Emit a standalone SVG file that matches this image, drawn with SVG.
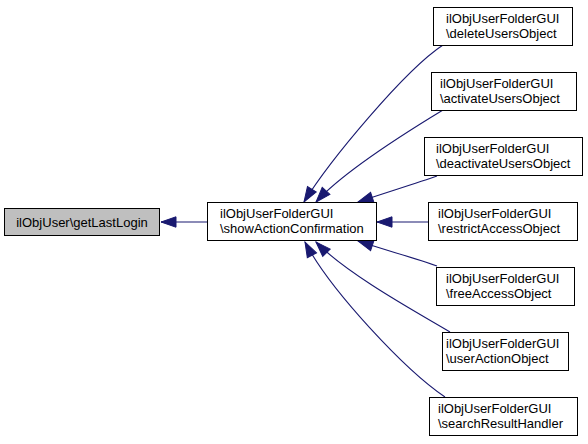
<svg xmlns="http://www.w3.org/2000/svg" width="588" height="444" viewBox="0 0 588 444">
<defs>
<style>
.box{fill:#ffffff;stroke:#000000;stroke-width:1}
.cur{fill:#bfbfbf;stroke:#000000;stroke-width:1}
text{font-family:"Liberation Sans",Arial,Helvetica,sans-serif;font-size:13px;fill:#000000}
.edge{fill:none;stroke:#191970;stroke-width:1.1}
</style>
<marker id="ah" markerUnits="userSpaceOnUse" markerWidth="16" markerHeight="12" viewBox="0 -6 16 12" refX="15" refY="0" orient="auto" overflow="visible">
<path d="M0,-5.2 L15,0 L0,5.2 Z" fill="#191970" stroke="#191970" stroke-width="1"/>
</marker>
</defs>
<rect width="588" height="444" fill="#ffffff"/>
<g id="edges">
<path class="edge" marker-end="url(#ah)" d="M207,222 L161,222"/>
<path class="edge" marker-end="url(#ah)" d="M443,45 C405,70 330,160 304,202"/>
<path class="edge" marker-end="url(#ah)" d="M443,110 C410,130 345,170 316,202"/>
<path class="edge" marker-end="url(#ah)" d="M437,176 C420,182 385,193 358,202"/>
<path class="edge" marker-end="url(#ah)" d="M428,222 L377,222"/>
<path class="edge" marker-end="url(#ah)" d="M437,266 C415,258 385,250 358,241"/>
<path class="edge" marker-end="url(#ah)" d="M450,332 C420,314 348,275 316,242"/>
<path class="edge" marker-end="url(#ah)" d="M445,397 C405,370 330,290 305,242"/>
</g>
<g id="node_getLastLogin">
<rect class="cur" x="4.5" y="208.5" width="155" height="27"/>
<text x="82" y="226.5" text-anchor="middle">ilObjUser\getLastLogin</text>
</g>
<g id="node_showActionConfirmation">
<rect class="box" x="207.5" y="202.5" width="169" height="38"/>
<text x="220" y="218">ilObjUserFolderGUI</text>
<text x="220" y="233">\showActionConfirmation</text>
</g>
<g id="node_deleteUsersObject">
<rect class="box" x="433.5" y="7.5" width="139" height="38"/>
<text x="446" y="23">ilObjUserFolderGUI</text>
<text x="446" y="38">\deleteUsersObject</text>
</g>
<g id="node_activateUsersObject">
<rect class="box" x="431.5" y="72.5" width="145" height="38"/>
<text x="440" y="88">ilObjUserFolderGUI</text>
<text x="440" y="103">\activateUsersObject</text>
</g>
<g id="node_deactivateUsersObject">
<rect class="box" x="424.5" y="137.5" width="158" height="38"/>
<text x="436" y="153">ilObjUserFolderGUI</text>
<text x="436" y="168">\deactivateUsersObject</text>
</g>
<g id="node_restrictAccessObject">
<rect class="box" x="428.5" y="202.5" width="149" height="38"/>
<text x="438" y="218">ilObjUserFolderGUI</text>
<text x="438" y="233">\restrictAccessObject</text>
</g>
<g id="node_freeAccessObject">
<rect class="box" x="436.5" y="267.5" width="138" height="38"/>
<text x="446" y="283">ilObjUserFolderGUI</text>
<text x="446" y="298">\freeAccessObject</text>
</g>
<g id="node_userActionObject">
<rect class="box" x="442.5" y="332.5" width="126" height="38"/>
<text x="446" y="348">ilObjUserFolderGUI</text>
<text x="446" y="363">\userActionObject</text>
</g>
<g id="node_searchResultHandler">
<rect class="box" x="429.5" y="397.5" width="148" height="38"/>
<text x="438" y="413">ilObjUserFolderGUI</text>
<text x="438" y="428">\searchResultHandler</text>
</g>
</svg>
